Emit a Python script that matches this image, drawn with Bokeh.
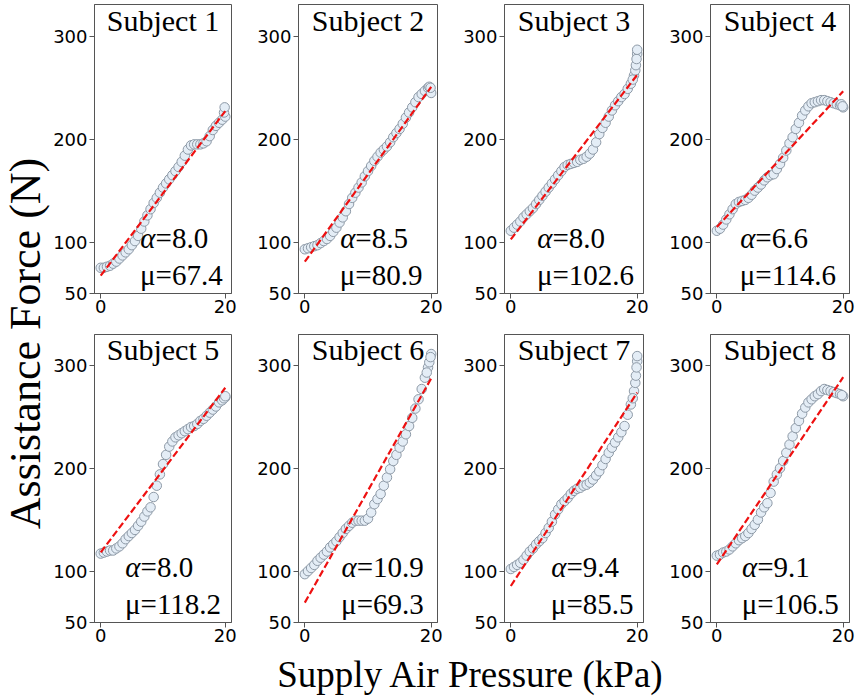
from math import pi
from bokeh.plotting import figure
from bokeh.models import Range1d, FixedTicker
from bokeh.layouts import row, column
from bokeh.embed import file_html
from bokeh.resources import INLINE
from bokeh.core.properties import value

# ---------------- data ----------------
subjects = ["Subject 1", "Subject 2", "Subject 3", "Subject 4",
            "Subject 5", "Subject 6", "Subject 7", "Subject 8"]
alpha = [8.0, 8.5, 8.0, 6.6, 8.0, 10.9, 9.4, 9.1]
mu = [67.4, 80.9, 102.6, 114.6, 118.2, 69.3, 85.5, 106.5]
x_ticks = [0, 20]
y_ticks = [50, 100, 200, 300]
x_label = "Supply Air Pressure (kPa)"
y_label = "Assistance Force (N)"

pressure_grid = [0, 0.5, 1, 1.5, 2, 2.5, 3, 3.5, 4, 4.5, 5, 5.5, 6, 6.5, 7, 7.5,
                 8, 8.5, 9, 9.5, 10, 10.5, 11, 11.5, 12, 12.5, 13, 13.5, 14, 14.5,
                 15, 15.5, 16, 16.5, 17, 17.5, 18, 18.5, 19, 19.5, 20]

pressure_s1 = pressure_grid + [19.8, 19.9]
force_s1 = [75, 75, 76, 77, 79, 81, 84, 87, 90, 93, 97, 101, 106, 113, 120, 126,
            132, 138, 143, 148, 153, 157, 161, 165, 169, 173, 178, 184, 190, 194,
            195, 195, 195, 196, 198, 203, 209, 213, 216, 219, 222, 226, 231]

pressure_s2 = pressure_grid + [19.7, 19.9]
force_s2 = [93, 94, 95, 96, 97, 99, 101, 103, 106, 110, 114, 119, 124, 130, 137, 143,
            148, 153, 158, 164, 169, 174, 179, 183, 187, 190, 193, 197, 202, 206,
            210, 215, 221, 226, 231, 236, 241, 244, 247, 250, 245, 251, 250]

pressure_s3 = pressure_grid + [19.3, 19.7, 19.8, 19.9, 20]
force_s3 = [111, 114, 117, 120, 124, 127, 130, 133, 137, 141, 145, 149, 153, 157, 161, 165,
            169, 173, 175, 176, 177, 178, 180, 181, 183, 186, 190, 197, 205, 211,
            216, 222, 228, 233, 237, 241, 244, 249, 254, 262, 283, 258, 267, 272, 278, 287]

pressure_s4 = pressure_grid + [19.7, 19.9]
force_s4 = [111, 113, 117, 122, 127, 132, 137, 139, 140, 141, 143, 146, 150, 153, 156, 160,
            163, 165, 166, 171, 176, 182, 189, 196, 202, 210, 216, 223, 228, 232,
            235, 236, 237, 238, 238, 237, 236, 235, 234, 233, 231, 234, 232]

pressure_s5 = pressure_grid + [19.8, 20]
force_s5 = [117, 118, 119, 120, 120, 122, 124, 127, 131, 134, 137, 140, 144, 148, 153, 158,
            162, 172, 183, 194, 204, 213, 221, 226, 230, 232, 234, 236, 238, 240,
            241, 243, 246, 248, 251, 254, 257, 260, 264, 266, 269, 268, 270]

pressure_s6 = pressure_grid + [19.3, 19.7, 19.9]
force_s6 = [97, 100, 103, 106, 110, 113, 116, 119, 123, 126, 129, 133, 137, 141, 144, 147,
            149, 149, 149, 149, 151, 157, 165, 170, 175, 183, 191, 199, 207, 213,
            220, 226, 233, 241, 249, 258, 267, 277, 288, 298, 311, 293, 303, 308]

pressure_s7 = pressure_grid + [19.3, 19.7, 19.8, 19.9, 20]
force_s7 = [102, 104, 106, 108, 111, 115, 119, 122, 126, 129, 132, 137, 142, 148, 155, 160,
            165, 168, 171, 175, 178, 180, 181, 183, 184, 186, 189, 193, 197, 203,
            209, 215, 220, 225, 230, 235, 241, 252, 262, 275, 304, 268, 283, 290, 298, 309]

pressure_s8 = pressure_grid + [19.8]
force_s8 = [115, 116, 118, 119, 121, 124, 127, 130, 132, 134, 137, 141, 145, 150, 157, 162,
            166, 176, 187, 194, 200, 207, 215, 223, 231, 239, 246, 253, 259, 264,
            267, 270, 272, 275, 277, 276, 275, 274, 273, 272, 270, 271]

pressures = [pressure_s1, pressure_s2, pressure_s3, pressure_s4,
             pressure_s5, pressure_s6, pressure_s7, pressure_s8]
forces = [force_s1, force_s2, force_s3, force_s4,
          force_s5, force_s6, force_s7, force_s8]

# ---------------- layout / style ----------------
X_RANGE = (-1, 21)
Y_RANGES = [(50, 331), (50, 330)]
FRAME_W = 139
FRAME_HS = [289, 288]
BORDER_LEFT = [42, 61, 61, 61]
BORDER_RIGHT = [6, 6, 6, 7]
BORDER_TOP = [4, 2]
BORDER_BOTTOM = [39, 30]
label_anchor_x = [8.8, 8.0, 6.6, 6.1, 6.4, 8.2, 8.8, 6.4]   # position of "=" in data x
ALPHA_Y = 104
MU_Y = 68
TITLE_Y = 315
SERIF = "Liberation Serif"
SANS = "DejaVu Sans"
AXIS_COLOR = "#555555"
ANNOT_SIZE = "29px"

panels = []
for i in range(8):
    col = i % 4
    rw = i // 4
    left = BORDER_LEFT[col]
    right = BORDER_RIGHT[col]
    top = BORDER_TOP[rw]
    bottom = BORDER_BOTTOM[rw]
    p = figure(width=left + FRAME_W + right, height=top + FRAME_HS[rw] + bottom,
               x_range=Range1d(*X_RANGE), y_range=Range1d(*Y_RANGES[rw]),
               output_backend="svg", toolbar_location=None, title=None,
               min_border_left=left, min_border_right=right,
               min_border_top=top, min_border_bottom=bottom)
    p.xgrid.visible = False
    p.ygrid.visible = False
    p.outline_line_color = AXIS_COLOR
    p.outline_line_width = 1
    p.background_fill_color = "white"
    p.border_fill_color = "white"

    p.xaxis.ticker = FixedTicker(ticks=x_ticks)
    p.yaxis.ticker = FixedTicker(ticks=y_ticks)
    for ax in (p.xaxis, p.yaxis):
        ax.axis_line_color = AXIS_COLOR
        ax.major_tick_line_color = AXIS_COLOR
        ax.minor_tick_line_color = None
        ax.major_tick_in = 0
        ax.major_tick_out = 5
        ax.major_label_text_font = SANS
        ax.major_label_text_font_size = "18px"
        ax.major_label_text_color = "black"
    p.xaxis.major_label_standoff = 1
    p.yaxis.major_label_standoff = 2

    p.scatter(pressures[i], forces[i], size=9.5, marker="circle",
              fill_color="#e4edf6", line_color="#8e9aa7", line_width=1)

    fit_x = [x_ticks[0], x_ticks[-1]]
    fit_y = [mu[i] + alpha[i] * fx for fx in fit_x]
    p.line(fit_x, fit_y, line_color="#ee1111", line_width=2.2, line_dash="7 3")

    p.text(x=[10], y=[TITLE_Y], text=[subjects[i]], text_font=value(SERIF),
           text_font_size="30px", text_align="center", text_baseline="alphabetic",
           text_color="black")
    ax_x = label_anchor_x[i]
    p.text(x=[ax_x], y=[ALPHA_Y], text=["α"], text_font=value(SERIF),
           text_font_style="italic", text_font_size=ANNOT_SIZE,
           text_align="right", text_baseline="alphabetic", text_color="black")
    p.text(x=[ax_x], y=[ALPHA_Y], text=[f"={alpha[i]:.1f}"], text_font=value(SERIF),
           text_font_size=ANNOT_SIZE, text_align="left", text_baseline="alphabetic",
           text_color="black")
    p.text(x=[ax_x], y=[MU_Y], text=["μ"], text_font=value(SERIF),
           text_font_size=ANNOT_SIZE, text_align="right", text_baseline="alphabetic",
           text_color="black")
    p.text(x=[ax_x], y=[MU_Y], text=[f"={mu[i]:.1f}"], text_font=value(SERIF),
           text_font_size=ANNOT_SIZE, text_align="left", text_baseline="alphabetic",
           text_color="black")
    panels.append(p)

# shared axis labels
YL_W, TOTAL_H = 50, 698
grid_w = sum(pp.width for pp in panels[:4])
XL_H = TOTAL_H - panels[0].height - panels[4].height
frames_center = (BORDER_LEFT[0] + (grid_w - BORDER_RIGHT[3])) / 2

ylab = figure(width=YL_W, height=TOTAL_H, x_range=Range1d(0, YL_W), y_range=Range1d(0, TOTAL_H),
              x_axis_type=None, y_axis_type=None, output_backend="svg",
              toolbar_location=None, title=None, min_border=0)
ylab.outline_line_color = None
ylab.xgrid.visible = False
ylab.ygrid.visible = False
ylab.text(x=[YL_W / 2], y=[TOTAL_H - 343], text=[y_label], angle=pi / 2,
          text_font=value(SERIF), text_font_size="44px", text_align="center",
          text_baseline="middle", text_color="black")

xlab = figure(width=grid_w, height=XL_H, x_range=Range1d(0, grid_w), y_range=Range1d(0, XL_H),
              x_axis_type=None, y_axis_type=None, output_backend="svg",
              toolbar_location=None, title=None, min_border=0)
xlab.outline_line_color = None
xlab.xgrid.visible = False
xlab.ygrid.visible = False
xlab.text(x=[frames_center], y=[XL_H / 2 + 1], text=[x_label], text_font=value(SERIF),
          text_font_size="37px", text_align="center", text_baseline="middle",
          text_color="black")

layout = row(ylab, column(row(*panels[:4]), row(*panels[4:]), xlab))

with open("out.html", "w") as f:
    f.write(file_html(layout, INLINE))
